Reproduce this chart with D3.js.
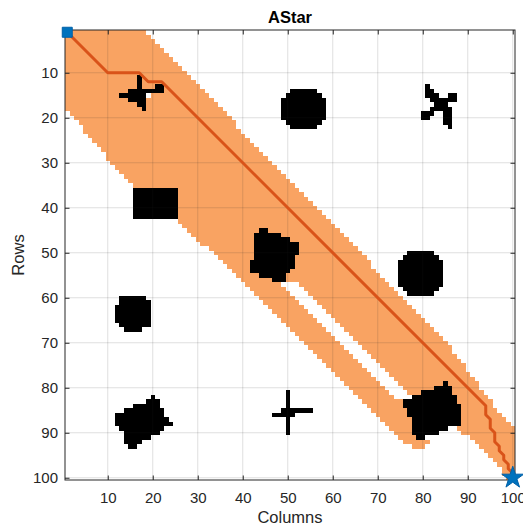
<!DOCTYPE html>
<html>
<head>
<meta charset="utf-8">
<script src="https://cdn.jsdelivr.net/npm/d3@7"></script>
<style>
  html, body { margin: 0; padding: 0; background: #ffffff; }
  svg { display: block; font-family: "Liberation Sans", Arial, Helvetica, sans-serif; }
</style>
</head>
<body>
<svg id="chart" width="523" height="530"></svg>
<script>
// ---- map data (columns 1..100, rows 1..100) ----
const tickValues = [10, 20, 30, 40, 50, 60, 70, 80, 90, 100];

// first and last visited column of the search band, one entry per row (row 1 first)
const bandStart = [
  1, 1, 1, 1, 1, 1, 1, 1, 1, 1,
  1, 1, 1, 1, 1, 1, 1, 1, 2, 3,
  4, 5, 5, 6, 7, 8, 9, 10, 10, 11,
  12, 13, 14, 15, 16, 26, 26, 26, 26, 26,
  26, 26, 26, 27, 28, 29, 30, 31, 33, 34,
  35, 36, 37, 38, 39, 40, 41, 42, 43, 44,
  45, 46, 47, 48, 49, 50, 51, 52, 53, 54,
  55, 56, 57, 58, 59, 60, 61, 62, 63, 64,
  65, 66, 67, 68, 69, 70, 71, 72, 73, 74,
  75, 76, 78, 94, 95, 96, 97, 98, 98, 99
];
const bandEnd = [
  18, 19, 20, 21, 22, 23, 24, 25, 26, 27,
  28, 29, 30, 31, 32, 33, 34, 35, 36, 37,
  38, 38, 39, 40, 41, 42, 43, 44, 45, 46,
  47, 48, 49, 50, 51, 52, 53, 54, 55, 56,
  57, 58, 59, 60, 61, 62, 63, 64, 65, 66,
  67, 68, 68, 69, 70, 71, 72, 73, 74, 75,
  76, 77, 78, 79, 80, 81, 82, 83, 84, 85,
  86, 86, 87, 88, 89, 89, 90, 91, 92, 92,
  93, 94, 95, 95, 96, 97, 98, 99, 100, 100,
  100, 100, 100, 100, 100, 100, 100, 100, 100, 100
];
// free cells inside the band that were never visited: [row, firstCol, lastCol]
const unvisitedRuns = [
  [15, 19, 19],
  [57, 49, 52], [58, 50, 53], [59, 51, 54], [60, 52, 55], [61, 53, 56], [62, 54, 57],
  [63, 55, 58], [64, 56, 59], [65, 57, 60], [66, 58, 61], [67, 59, 62], [68, 60, 63],
  [69, 61, 64], [70, 62, 65], [71, 63, 66], [72, 64, 67], [73, 65, 68], [74, 66, 69],
  [75, 67, 70], [76, 68, 71], [77, 69, 72], [78, 70, 73], [79, 71, 74], [80, 72, 75],
  [81, 73, 76], [82, 74, 77],
  [89, 86, 87], [90, 84, 88], [91, 81, 90], [92, 82, 91], [93, 81, 92]
];
// occupied cells: [row, firstCol, lastCol]
const obstacleRuns = [
  // cross near (17,15)
  [11, 17, 17], [12, 17, 17], [13, 17, 17], [13, 21, 22], [14, 15, 22], [15, 13, 18],
  [16, 15, 18], [17, 17, 18], [18, 18, 18],
  // disc near (53,18)
  [14, 51, 56], [15, 50, 57], [16, 49, 58], [17, 49, 58], [18, 49, 58], [19, 49, 58],
  [20, 49, 58], [21, 50, 57], [22, 51, 56],
  // X shape near (84,17)
  [13, 81, 81], [14, 81, 82], [15, 81, 83], [15, 86, 87], [16, 82, 87], [17, 83, 85],
  [18, 82, 86], [19, 80, 82], [19, 85, 86], [20, 80, 81], [20, 85, 86], [21, 85, 86],
  [22, 86, 86],
  // block near (20,39)
  [36, 16, 25], [37, 16, 25], [38, 16, 25], [39, 16, 25], [40, 16, 25], [41, 16, 25],
  [42, 16, 25],
  // tilted block near (47,50)
  [45, 44, 45], [46, 43, 48], [47, 43, 50], [48, 43, 52], [49, 43, 52], [50, 43, 52],
  [51, 43, 51], [52, 42, 51], [53, 42, 51], [54, 42, 50], [55, 44, 49], [56, 47, 49],
  // disc near (80,55)
  [50, 77, 82], [51, 76, 83], [52, 75, 84], [53, 75, 84], [54, 75, 84], [55, 75, 84],
  [56, 75, 84], [57, 75, 84], [58, 76, 83], [59, 77, 82],
  // disc near (16,63)
  [60, 13, 18], [61, 13, 19], [62, 12, 19], [63, 12, 19], [64, 12, 19], [65, 12, 19],
  [66, 13, 19], [67, 14, 17],
  // blob near (19,87)
  [82, 20, 20], [83, 19, 21], [84, 16, 21], [85, 14, 22], [86, 12, 22], [87, 12, 23],
  [88, 12, 24], [89, 13, 22], [90, 14, 21], [91, 14, 19], [92, 14, 17], [93, 15, 16],
  // cross near (50,86)
  [81, 50, 50], [82, 50, 50], [83, 50, 50], [84, 50, 50], [85, 49, 55], [86, 47, 51],
  [87, 50, 50], [88, 50, 50], [89, 50, 50], [90, 50, 50],
  // blob near (82,85)
  [79, 85, 85], [80, 83, 86], [81, 80, 86], [82, 78, 87], [83, 76, 87], [84, 76, 88],
  [85, 77, 88], [86, 77, 88], [87, 78, 88], [88, 78, 88], [89, 78, 85], [90, 78, 83],
  [91, 79, 80]
];
// planned path vertices
const pathCols = [1, 10, 17, 19, 22, 94, 94, 95, 95, 96, 96, 97, 97, 98, 98, 99, 99, 100, 100];
const pathRows = [1, 10, 10, 12, 12, 84, 86, 87, 89, 90, 92, 93, 94, 95, 96, 97, 98, 99, 100];
const startCell = { col: 1, row: 1 };
const goalCell = { col: 100, row: 100 };

// ---- layout ----
const svg = d3.select("#chart");
const plotLeft = 65, plotTop = 30, plotSize = 450;
const x = d3.scaleLinear().domain([0.5, 100.5]).range([plotLeft, plotLeft + plotSize]);
const y = d3.scaleLinear().domain([0.5, 100.5]).range([plotTop, plotTop + plotSize]);
const axisColor = "#262626";

svg.append("rect")
  .attr("x", plotLeft).attr("y", plotTop)
  .attr("width", plotSize).attr("height", plotSize)
  .attr("fill", "#ffffff");

// visited cells: band per row with the unvisited holes removed
const visitedRuns = [];
for (let r = 1; r <= 100; r++) {
  let c = bandStart[r - 1];
  const end = bandEnd[r - 1];
  const holes = unvisitedRuns.filter(h => h[0] === r).sort((a, b) => a[1] - b[1]);
  for (const h of holes) {
    if (h[1] > c) visitedRuns.push([r, c, Math.min(h[1] - 1, end)]);
    c = Math.max(c, h[2] + 1);
  }
  if (c <= end) visitedRuns.push([r, c, end]);
}

function drawRuns(layer, runs, color) {
  layer.selectAll("rect")
    .data(runs)
    .join("rect")
    .attr("x", d => x(d[1] - 0.5))
    .attr("y", d => y(d[0] - 0.5))
    .attr("width", d => x(d[2] + 0.5) - x(d[1] - 0.5))
    .attr("height", d => y(d[0] + 0.5) - y(d[0] - 0.5))
    .attr("fill", color)
    .attr("shape-rendering", "crispEdges");
}

drawRuns(svg.append("g").attr("class", "visited"), visitedRuns, "#F9A362");
drawRuns(svg.append("g").attr("class", "obstacles"), obstacleRuns, "#000000");

// grid lines on top of the map
const grid = svg.append("g").attr("class", "grid")
  .attr("stroke", axisColor).attr("stroke-opacity", 0.15).attr("stroke-width", 1);
grid.selectAll("line.gx").data(tickValues).join("line").attr("class", "gx")
  .attr("x1", d => x(d)).attr("x2", d => x(d))
  .attr("y1", plotTop).attr("y2", plotTop + plotSize);
grid.selectAll("line.gy").data(tickValues).join("line").attr("class", "gy")
  .attr("y1", d => y(d)).attr("y2", d => y(d))
  .attr("x1", plotLeft).attr("x2", plotLeft + plotSize);

// path
const pathPoints = pathCols.map((c, i) => [c, pathRows[i]]);
svg.append("path")
  .attr("d", d3.line().x(d => x(d[0])).y(d => y(d[1]))(pathPoints))
  .attr("fill", "none")
  .attr("stroke", "#D95319")
  .attr("stroke-width", 3)
  .attr("stroke-linejoin", "round");

// axes with inward ticks on all four sides
const tick = 4.5;
function styleAxis(g) {
  g.select(".domain").remove();
  g.selectAll(".tick line").attr("stroke", axisColor);
  g.selectAll(".tick text").attr("fill", axisColor).attr("font-size", 15);
}
svg.append("g").attr("transform", `translate(0,${plotTop + plotSize})`)
  .call(d3.axisBottom(x).tickValues(tickValues).tickSizeInner(-tick).tickSizeOuter(0).tickPadding(12))
  .call(styleAxis);
svg.append("g").attr("transform", `translate(${plotLeft},0)`)
  .call(d3.axisLeft(y).tickValues(tickValues).tickSizeInner(-tick).tickSizeOuter(0).tickPadding(7))
  .call(styleAxis);
svg.append("g").attr("transform", `translate(0,${plotTop})`)
  .call(d3.axisTop(x).tickValues(tickValues).tickSizeInner(-tick).tickSizeOuter(0).tickFormat(""))
  .call(styleAxis);
svg.append("g").attr("transform", `translate(${plotLeft + plotSize},0)`)
  .call(d3.axisRight(y).tickValues(tickValues).tickSizeInner(-tick).tickSizeOuter(0).tickFormat(""))
  .call(styleAxis);
svg.selectAll("g.tick text").attr("font-family", "'Liberation Sans', Arial, Helvetica, sans-serif");

svg.append("rect")
  .attr("x", plotLeft).attr("y", plotTop)
  .attr("width", plotSize).attr("height", plotSize)
  .attr("fill", "none").attr("stroke", axisColor).attr("stroke-width", 1);

// start and goal markers
svg.append("path")
  .attr("d", d3.symbol(d3.symbolSquare, 100)())
  .attr("transform", `translate(${x(startCell.col)},${y(startCell.row)})`)
  .attr("fill", "#0072BD").attr("stroke", "#0060A8").attr("stroke-width", 1);
svg.append("path")
  .attr("d", d3.symbol(d3.symbolStar, 150)())
  .attr("transform", `translate(${x(goalCell.col)},${y(goalCell.row)})`)
  .attr("fill", "#0072BD").attr("stroke", "#0060A8").attr("stroke-width", 1);

// labels
svg.append("text")
  .attr("x", plotLeft + plotSize / 2).attr("y", 22.5)
  .attr("text-anchor", "middle").attr("font-size", 16.5).attr("font-weight", "bold")
  .attr("fill", "#000000").text("AStar");
svg.append("text")
  .attr("x", plotLeft + plotSize / 2).attr("y", 523)
  .attr("text-anchor", "middle").attr("font-size", 16.5)
  .attr("fill", axisColor).text("Columns");
svg.append("text")
  .attr("transform", `translate(23.5,${plotTop + plotSize / 2}) rotate(-90)`)
  .attr("text-anchor", "middle").attr("font-size", 16.5)
  .attr("fill", axisColor).text("Rows");
</script>
</body>
</html>
